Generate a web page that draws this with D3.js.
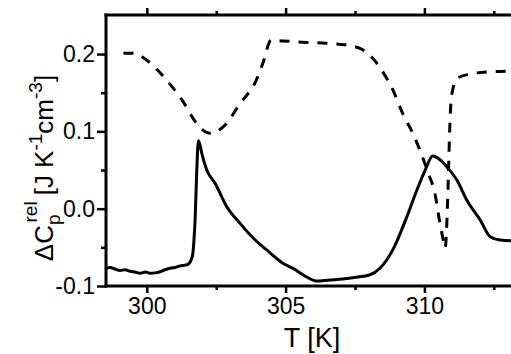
<!DOCTYPE html>
<html>
<head>
<meta charset="utf-8">
<script src="https://cdn.jsdelivr.net/npm/d3@7"></script>
<style>
  html, body { margin: 0; padding: 0; background: #fff; }
  text { font-family: "Liberation Sans", Arial, sans-serif; fill: #000; }
</style>
</head>
<body>
<div id="container"></div>
<script>
const width = 511, height = 354;

// Solid trace: excess heat capacity, T [K] vs ΔCp
const solidT = [298.53, 298.68, 298.85, 299.04, 299.22, 299.40, 299.58, 299.76, 299.95, 300.12, 300.30, 300.48,
  300.66, 300.84, 301.02, 301.20, 301.38, 301.50, 301.60, 301.66, 301.70, 301.74, 301.80, 301.86, 301.92, 301.98,
  302.16, 302.46, 302.88, 303.36, 303.84, 304.32, 304.90, 305.26, 305.74, 306.10, 306.58, 307.06, 307.54, 308.02,
  308.40, 308.88, 309.37, 309.73, 310.03, 310.30, 310.57, 310.86, 311.17, 311.53, 312.01, 312.37, 312.73, 313.12];
const solidCp = [-0.077, -0.076, -0.078, -0.080, -0.079, -0.081, -0.082, -0.0836, -0.082, -0.0836, -0.083, -0.0815,
  -0.079, -0.077, -0.076, -0.074, -0.073, -0.0715, -0.066, -0.0577, -0.040, -0.0146, 0.050, 0.088, 0.082, 0.0717,
  0.050, 0.0329, 0.0026, -0.019, -0.0383, -0.0534, -0.0706, -0.077, -0.088, -0.0935, -0.0922, -0.091, -0.0888, -0.0858,
  -0.077, -0.052, -0.0103, 0.0242, 0.050, 0.068, 0.063, 0.052, 0.037, 0.011, -0.0146, -0.0362, -0.0405, -0.0414];

// Dashed trace
const dashT = [299.16, 299.52, 300.00, 300.72, 301.26, 301.80, 302.04, 302.28, 302.76, 303.36, 303.94, 304.18, 304.48,
  304.90, 305.74, 306.46, 307.30, 307.96, 308.50, 308.86, 309.22, 309.58, 309.88, 310.14, 310.39, 310.54, 310.68,
  310.75, 310.78, 310.83, 310.86, 310.90, 310.94, 311.02, 311.20, 311.62, 312.34, 313.12];
const dashCp = [0.201, 0.201, 0.192, 0.166, 0.141, 0.110, 0.101, 0.0975, 0.106, 0.136, 0.166, 0.188, 0.218,
  0.217, 0.215, 0.214, 0.211, 0.201, 0.177, 0.154, 0.123, 0.0975, 0.0717, 0.046, 0.0177, -0.0146, -0.0405,
  -0.051, -0.0405, 0.0026, 0.037, 0.089, 0.128, 0.154, 0.169, 0.174, 0.177, 0.178];

const xMajor = [300, 305, 310];
const xMinor = [302.5, 307.5, 312.5];
const yMajor = [-0.1, 0.0, 0.1, 0.2];
const yMinor = [-0.05, 0.05, 0.15];

const svg = d3.select("#container").append("svg")
  .attr("width", width).attr("height", height);

const x = d3.scaleLinear().domain([298.53, 313.12]).range([106, 511]);
const y = d3.scaleLinear().domain([-0.1, 0.2505]).range([286, 15]);

const line = d3.line()
  .x(d => x(d[0]))
  .y(d => y(d[1]))
  .curve(d3.curveMonotoneX);

svg.append("path")
  .datum(dashT.map((t, i) => [t, dashCp[i]]))
  .attr("fill", "none")
  .attr("stroke", "#000")
  .attr("stroke-width", 3)
  .attr("stroke-dasharray", "10,9")
  .attr("d", line);

svg.append("path")
  .datum(solidT.map((t, i) => [t, solidCp[i]]))
  .attr("fill", "none")
  .attr("stroke", "#000")
  .attr("stroke-width", 3)
  .attr("stroke-linejoin", "round")
  .attr("d", line);

// axes
const styleAxis = ax => {
  ax.select(".domain").remove();
  ax.selectAll("line").attr("stroke", "#000").attr("stroke-width", 2.5);
  ax.selectAll("text").style("font-size", "23px").attr("fill", "#000");
};

svg.append("g").attr("transform", "translate(0,286)")
  .call(d3.axisBottom(x).tickValues(xMajor).tickSize(7).tickPadding(5).tickFormat(d3.format("d")))
  .call(styleAxis);
svg.append("g").attr("transform", "translate(0,286)")
  .call(d3.axisBottom(x).tickValues(xMinor).tickSize(4).tickFormat(""))
  .call(styleAxis);

svg.append("g").attr("transform", "translate(0,15)")
  .call(d3.axisTop(x).tickValues(xMajor).tickSize(7).tickFormat(""))
  .call(styleAxis);
svg.append("g").attr("transform", "translate(0,15)")
  .call(d3.axisTop(x).tickValues(xMinor).tickSize(4).tickFormat(""))
  .call(styleAxis);

svg.append("g").attr("transform", "translate(106,0)")
  .call(d3.axisLeft(y).tickValues(yMajor).tickSize(9).tickPadding(2)
    .tickFormat(d => d3.format(".1f")(d).replace("\u2212", "-")))
  .call(styleAxis);
svg.append("g").attr("transform", "translate(106,0)")
  .call(d3.axisLeft(y).tickValues(yMinor).tickSize(5).tickFormat(""))
  .call(styleAxis);

// frame lines
svg.append("line").attr("x1", 106).attr("x2", 106).attr("y1", 13.5).attr("y2", 287.5)
  .attr("stroke", "#000").attr("stroke-width", 3);
svg.append("line").attr("x1", 104.5).attr("x2", 511).attr("y1", 15).attr("y2", 15)
  .attr("stroke", "#000").attr("stroke-width", 3);
svg.append("line").attr("x1", 104.5).attr("x2", 511).attr("y1", 286).attr("y2", 286)
  .attr("stroke", "#000").attr("stroke-width", 3);

// axis labels
svg.append("text")
  .attr("x", 312).attr("y", 347)
  .attr("text-anchor", "middle")
  .style("font-size", "27px")
  .text("T [K]");

const yl = svg.append("text")
  .attr("transform", "translate(53,168) rotate(-90)")
  .attr("text-anchor", "middle")
  .style("font-size", "26px");
yl.append("tspan").text("ΔC");
yl.append("tspan").attr("dy", 7).style("font-size", "19px").text("p");
yl.append("tspan").attr("dx", -8).attr("dy", -23).style("font-size", "19px").text("rel");
yl.append("tspan").attr("dx", 6).attr("dy", 16).text("[J K");
yl.append("tspan").attr("dy", -11).style("font-size", "19px").text("-1");
yl.append("tspan").attr("dy", 11).text("cm");
yl.append("tspan").attr("dy", -11).style("font-size", "19px").text("-3");
yl.append("tspan").attr("dy", 11).text("]");
</script>
</body>
</html>
